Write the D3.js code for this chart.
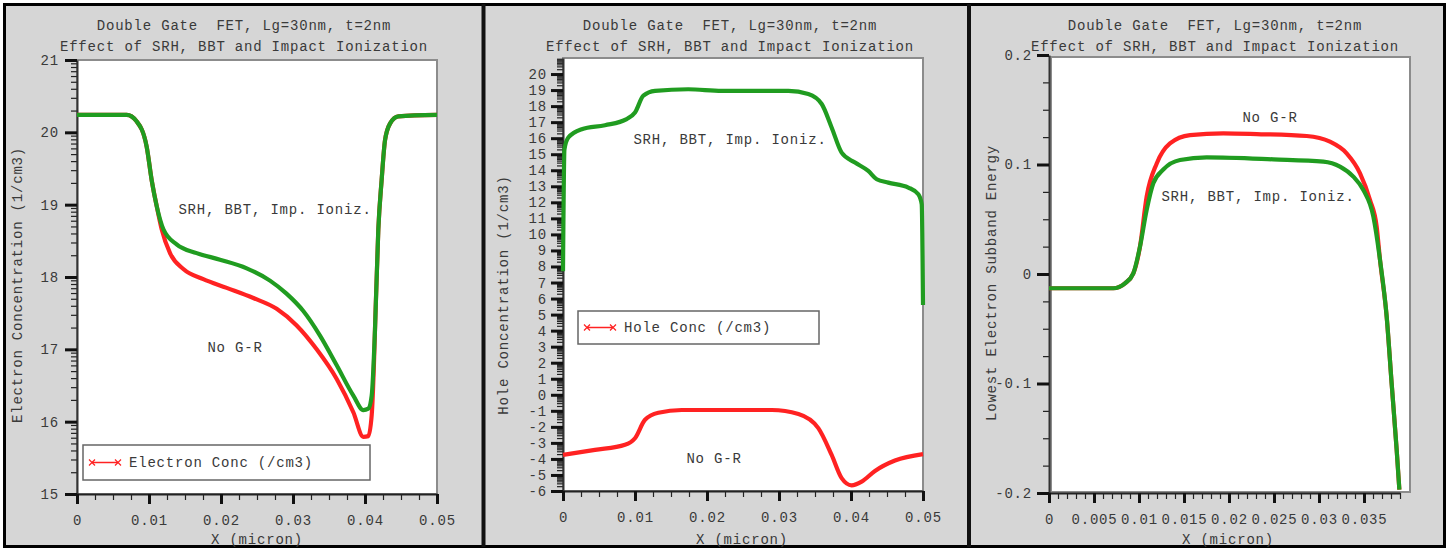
<!DOCTYPE html>
<html><head><meta charset="utf-8">
<script src="https://cdn.jsdelivr.net/npm/d3@7"></script>
<style>
body{margin:0;background:#fff}
svg text{font-family:"Liberation Mono","DejaVu Sans Mono",monospace;fill:#3a3a3a;font-size:14px;letter-spacing:0.8px;white-space:pre}
</style></head><body>
<svg id="chart" width="1453" height="549"></svg>
<script>
// ---- shared text ----
const titleLine1 = "Double Gate  FET, Lg=30nm, t=2nm";
const titleLine2 = "Effect of SRH, BBT and Impact Ionization";
const xTitle = "X (micron)";
const labelGR = "SRH, BBT, Imp. Ioniz.";
const labelNoGR = "No G-R";

// ---- panel 1: electron concentration (log10 1/cm3) ----
const elecXTicks = [0, 0.01, 0.02, 0.03, 0.04, 0.05];
const elecYTicks = [15, 16, 17, 18, 19, 20, 21];
const elecNoGR = [[0,20.24],[0.0069,20.24],[0.0083,20.15],[0.00968,19.80],[0.01037,19.34],[0.01107,18.98],[0.01176,18.66],[0.01292,18.33],[0.01477,18.11],[0.01754,17.97],[0.02079,17.85],[0.02449,17.71],[0.02773,17.56],[0.03051,17.33],[0.03329,17.00],[0.03607,16.59],[0.03838,16.13],[0.03977,15.79],[0.04046,15.80],[0.04093,16.09],[0.04125,16.82],[0.04139,17.28],[0.04185,18.66],[0.04231,19.34],[0.04278,19.89],[0.04347,20.12],[0.04463,20.22],[0.05,20.24]];
const elecGR = [[0,20.24],[0.0069,20.24],[0.0083,20.15],[0.00968,19.80],[0.01037,19.34],[0.01107,18.98],[0.0120,18.66],[0.01384,18.45],[0.01662,18.33],[0.01986,18.24],[0.02357,18.12],[0.0268,17.95],[0.0291,17.77],[0.03143,17.53],[0.03375,17.19],[0.03607,16.78],[0.03838,16.36],[0.03977,16.16],[0.04046,16.18],[0.04093,16.36],[0.04139,17.28],[0.04185,18.66],[0.04231,19.34],[0.04278,19.89],[0.04347,20.12],[0.04463,20.22],[0.05,20.24]];

// ---- panel 2: hole concentration (log10 1/cm3) ----
const holeXTicks = [0, 0.01, 0.02, 0.03, 0.04, 0.05];
const holeYTicks = [-6,-5,-4,-3,-2,-1,0,1,2,3,4,5,6,7,8,9,10,11,12,13,14,15,16,17,18,19,20];
const holeNoGR = [[0,-3.75],[0.00444,-3.44],[0.00861,-3.12],[0.01,-2.71],[0.01139,-1.56],[0.01324,-1.12],[0.01648,-0.95],[0.029,-0.95],[0.0327,-1.2],[0.03546,-2.08],[0.03731,-3.75],[0.0387,-5.2],[0.04009,-5.65],[0.04148,-5.42],[0.04333,-4.75],[0.04611,-4.1],[0.05,-3.7]];
const holeGR = [[0,7.7],[0.0002,15.3],[0.00074,16.04],[0.0026,16.56],[0.00583,16.81],[0.00884,17.19],[0.01,17.6],[0.01116,18.65],[0.01278,18.95],[0.0174,19.05],[0.02204,18.95],[0.0313,18.95],[0.03407,18.75],[0.03593,18.13],[0.03731,16.67],[0.0387,15.1],[0.04056,14.48],[0.0424,13.96],[0.04357,13.44],[0.04518,13.23],[0.04796,12.92],[0.04935,12.5],[0.04982,11.88],[0.05,5.6]];

// ---- panel 3: lowest electron subband energy ----
const subXTicks = [0, 0.005, 0.01, 0.015, 0.02, 0.025, 0.03, 0.035];
const subYTicks = [-0.2, -0.1, 0, 0.1, 0.2];
const subNoGR = [[0,-0.013],[0.00715,-0.013],[0.00844,-0.0085],[0.00937,0.0006],[0.01011,0.025],[0.01085,0.0706],[0.01197,0.101],[0.01344,0.1193],[0.01567,0.1269],[0.01937,0.1285],[0.02307,0.1278],[0.02863,0.126],[0.03122,0.1208],[0.03307,0.1102],[0.03456,0.092],[0.03567,0.0676],[0.03641,0.0432],[0.03678,0.0128],[0.03752,-0.039],[0.03807,-0.0998],[0.03863,-0.1607],[0.03893,-0.197]];
const subGR = [[0,-0.013],[0.00715,-0.013],[0.00844,-0.0085],[0.00937,0.0006],[0.01011,0.025],[0.01085,0.0584],[0.01159,0.0828],[0.0127,0.0954],[0.01456,0.1041],[0.01752,0.1065],[0.02493,0.1047],[0.03048,0.1026],[0.03233,0.098],[0.03381,0.0889],[0.03493,0.0767],[0.03604,0.0524],[0.03678,0.0128],[0.03752,-0.039],[0.03807,-0.0998],[0.03863,-0.1607],[0.03893,-0.197]];

const RED = "#ff2222", GREEN = "#209c20";

const svg = d3.select("#chart");

// outer board and panel separators
svg.append("rect").attr("x",4.5).attr("y",4.5).attr("width",1440).attr("height",542)
  .attr("fill","#d6d6d6").attr("stroke","#000").attr("stroke-width",3);
[483.5, 969].forEach(xp => svg.append("line").attr("x1",xp).attr("x2",xp).attr("y1",4).attr("y2",547)
  .attr("stroke","#111").attr("stroke-width",4));

// minor tick helpers
const logMinor = (lo, hi) => {
  const out = [];
  for (let n = lo; n < hi; n++) for (let k = 2; k <= 9; k++) out.push(n + Math.log10(k));
  return out;
};
const stepMinor = (lo, hi, step) => d3.range(Math.round((hi - lo) / step) + 1).map(i => +(lo + i * step).toFixed(6));

function panel(o) {
  const g = svg.append("g");
  const x = d3.scaleLinear().domain(o.xDomain).range(o.xRange);
  const y = d3.scaleLinear().domain(o.yDomain).range(o.yRange);

  // titles
  g.append("text").attr("x", o.cx).attr("y", 30).attr("text-anchor","middle").text(titleLine1);
  g.append("text").attr("x", o.cx).attr("y", 51).attr("text-anchor","middle").text(titleLine2);

  // plot frame
  g.append("rect").attr("x", o.frame[0]).attr("y", o.frame[1])
    .attr("width", o.frame[2] - o.frame[0]).attr("height", o.frame[3] - o.frame[1])
    .attr("fill","#fff").attr("stroke","#8c8c8c").attr("stroke-width",2);

  const X0 = o.xRange[0], Y0 = o.yRange[0];

  // y axis: minor then major
  const yMin = g.append("g").attr("transform",`translate(${X0},0)`)
    .call(d3.axisLeft(y).tickValues(o.yMinor).tickSize(6).tickSizeOuter(0).tickFormat(""));
  yMin.select(".domain").remove();
  yMin.selectAll("line").attr("stroke","#222").attr("stroke-width",1.2);
  const yMaj = g.append("g").attr("transform",`translate(${X0},0)`)
    .call(d3.axisLeft(y).tickValues(o.yTicks).tickSize(12).tickSizeOuter(0).tickPadding(o.yPad)
      .tickFormat(d => String(d)));
  yMaj.select(".domain").attr("stroke","#333").attr("stroke-width",2);
  yMaj.selectAll("line").attr("stroke","#111").attr("stroke-width",3);

  // x axis: minor then major
  const xMin = g.append("g").attr("transform",`translate(0,${Y0})`)
    .call(d3.axisBottom(x).tickValues(o.xMinor).tickSize(6).tickSizeOuter(0).tickFormat(""));
  xMin.select(".domain").remove();
  xMin.selectAll("line").attr("stroke","#222").attr("stroke-width",1.2);
  const xMaj = g.append("g").attr("transform",`translate(0,${Y0})`)
    .call(d3.axisBottom(x).tickValues(o.xTicks).tickSize(10).tickSizeOuter(0).tickPadding(11).tickFormat(d => String(d)));
  xMaj.select(".domain").attr("stroke","#222").attr("stroke-width",2);
  xMaj.selectAll("line").attr("stroke","#111").attr("stroke-width",3);

  // axis titles
  g.append("text").attr("x", o.xTitleX).attr("y", 544).attr("text-anchor","middle").text(xTitle);
  g.append("text").attr("transform",`translate(${o.yTitleX},${o.yTitleY}) rotate(-90)`)
    .attr("text-anchor","middle").attr("dominant-baseline","central").text(o.yTitle);

  // curves: no G-R underneath, with G-R on top
  const line = d3.line().x(d => x(d[0])).y(d => y(d[1])).curve(d3.curveMonotoneX);
  g.append("path").datum(o.noGR).attr("d", line).attr("fill","none")
    .attr("stroke", RED).attr("stroke-width", 4.2).attr("stroke-linejoin","round");
  g.append("path").datum(o.gr).attr("d", line).attr("fill","none")
    .attr("stroke", GREEN).attr("stroke-width", 4.2).attr("stroke-linejoin","round");

  // in-plot annotations
  o.notes.forEach(n => g.append("text").attr("x", n[1]).attr("y", n[2])
    .attr("text-anchor","middle").attr("dominant-baseline","central").text(n[0]));

  // legend
  if (o.legend) {
    const L = o.legend;
    g.append("rect").attr("x", L.box[0]).attr("y", L.box[1]).attr("width", L.box[2]).attr("height", L.box[3])
      .attr("fill","#fff").attr("stroke","#666").attr("stroke-width",1.5);
    const ly = L.box[1] + L.box[3] / 2;
    g.append("line").attr("x1", L.sym[0]).attr("x2", L.sym[1]).attr("y1", ly).attr("y2", ly)
      .attr("stroke", RED).attr("stroke-width", 1.5);
    [L.sym[0], L.sym[1]].forEach(px => g.append("path")
      .attr("d", `M${px-3},${ly-3}L${px+3},${ly+3}M${px-3},${ly+3}L${px+3},${ly-3}`)
      .attr("stroke", RED).attr("stroke-width", 1.2));
    g.append("text").attr("x", L.sym[1] + 11).attr("y", ly).attr("dominant-baseline","central").text(L.text);
  }
}

panel({
  cx: 244, xDomain: [0, 0.05], xRange: [77, 437], yDomain: [15, 21], yRange: [494, 60],
  frame: [77, 60, 437, 494],
  xTicks: elecXTicks, xMinor: stepMinor(0, 0.05, 0.0025),
  yTicks: elecYTicks, yMinor: logMinor(15, 21), yPad: 6,
  xTitleX: 257, yTitleX: 18, yTitleY: 285, yTitle: "Electron Concentration (1/cm3)",
  noGR: elecNoGR, gr: elecGR,
  notes: [[labelGR, 275, 210], [labelNoGR, 235, 348]],
  legend: { box: [83, 445, 287, 35], sym: [92, 118], text: "Electron Conc (/cm3)" }
});

panel({
  cx: 730, xDomain: [0, 0.05], xRange: [563, 923], yDomain: [-6, 21], yRange: [491, 58],
  frame: [563, 58, 923, 491],
  xTicks: holeXTicks, xMinor: stepMinor(0, 0.05, 0.0025),
  yTicks: holeYTicks, yMinor: logMinor(-6, 21), yPad: 4,
  xTitleX: 742, yTitleX: 504, yTitleY: 295, yTitle: "Hole Concentration (1/cm3)",
  noGR: holeNoGR, gr: holeGR,
  notes: [[labelGR, 730, 140], [labelNoGR, 714, 459]],
  legend: { box: [578, 311, 241, 33], sym: [587, 613], text: "Hole Conc (/cm3)" }
});

panel({
  cx: 1215, xDomain: [0, 0.039], xRange: [1049, 1400], yDomain: [-0.2, 0.2], yRange: [493, 55],
  frame: [1051, 57, 1410, 492],
  xTicks: subXTicks, xMinor: stepMinor(0, 0.039, 0.001),
  yTicks: subYTicks, yMinor: stepMinor(-0.2, 0.2, 0.025), yPad: 5,
  xTitleX: 1228, yTitleX: 992, yTitleY: 283, yTitle: "Lowest Electron Subband Energy",
  noGR: subNoGR, gr: subGR,
  notes: [[labelNoGR, 1270, 118], [labelGR, 1258, 197]]
});
</script></body></html>
